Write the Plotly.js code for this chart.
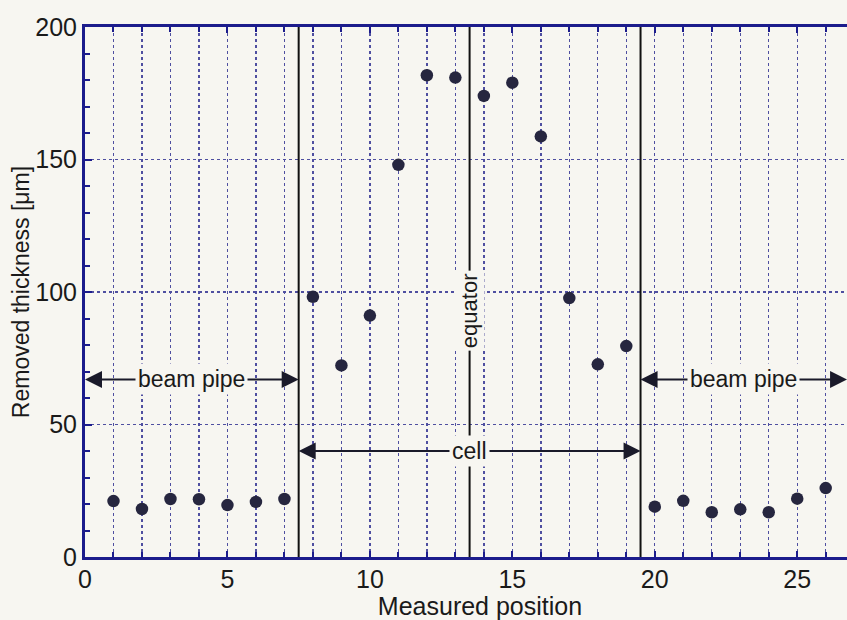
<!DOCTYPE html>
<html>
<head>
<meta charset="utf-8">
<script src="https://cdn.plot.ly/plotly-3.0.1.min.js"></script>
<style>
  html, body { margin: 0; padding: 0; overflow: hidden; background: #f7f6f1; }
  #chart { width: 875px; height: 620px; }
</style>
</head>
<body>
<div id="chart"></div>
<script>
// Data
const positions = [1,2,3,4,5,6,7,8,9,10,11,12,13,14,15,16,17,18,19,20,21,22,23,24,25,26];
const thickness = [21.1,18.1,21.9,21.8,19.6,20.8,21.9,98.2,72.3,91.1,148.0,181.8,180.9,174.0,179.0,158.7,97.7,72.7,79.6,19.0,21.2,16.9,18.0,16.9,22.0,26.0];
const boundaries = [7.5, 13.5, 19.5];
const regions = [
  {label: 'beam pipe', from: 0, to: 7.5, level: 67},
  {label: 'cell', from: 7.5, to: 19.5, level: 40},
  {label: 'beam pipe', from: 19.5, to: 26.75, level: 67}
];
const equatorLabel = {label: 'equator', x: 13.5, y: 93};
const xTicks = [0, 5, 10, 15, 20, 25];
const yTicks = [0, 50, 100, 150, 200];

const navy = '#1c1c8c';
const gridCol = '#4f4fa0';
const bg = '#f7f6f1';
const font = 'Liberation Sans, Arial, Helvetica, sans-serif';

const trace = {
  x: positions, y: thickness, type: 'scatter', mode: 'markers',
  marker: {size: 12.5, color: '#26263f'},
  hoverinfo: 'skip', showlegend: false
};

const shapes = boundaries.map(b => ({
  type: 'line', xref: 'x', yref: 'y', x0: b, x1: b, y0: 0, y1: 200,
  line: {color: '#111', width: 2}
}));

const annotations = [];
regions.forEach(r => {
  const mid = (r.from + r.to) / 2;
  [r.from, r.to].forEach(tip => {
    annotations.push({
      x: tip, y: r.level, ax: mid, ay: r.level, xref: 'x', yref: 'y', axref: 'x', ayref: 'y',
      text: '', showarrow: true, arrowhead: 2, arrowsize: 1.7, arrowwidth: 2, arrowcolor: '#1a1a2a',
      standoff: 0, startstandoff: 0
    });
  });
  annotations.push({
    x: mid, y: r.level, xref: 'x', yref: 'y', text: r.label, showarrow: false,
    font: {family: font, size: 23, color: '#1a1a1a'}, bgcolor: bg, borderpad: 2
  });
});
annotations.push({
  x: equatorLabel.x, y: equatorLabel.y, xref: 'x', yref: 'y', text: equatorLabel.label,
  showarrow: false, textangle: -90, font: {family: font, size: 22, color: '#1a1a1a'},
  bgcolor: bg, borderpad: 2
});

const layout = {
  width: 875, height: 620,
  margin: {l: 85, r: 0, t: 27, b: 63},
  paper_bgcolor: bg, plot_bgcolor: bg,
  font: {family: font, size: 25, color: '#1a1a1a'},
  showlegend: false,
  xaxis: {
    range: [0, 27.73], tickvals: xTicks, ticktext: xTicks.map(String),
    showline: true, linecolor: navy, linewidth: 3, mirror: 'ticks',
    ticks: 'inside', ticklen: 6, tickwidth: 2, tickcolor: navy,
    showgrid: true, gridcolor: gridCol, gridwidth: 1.4, griddash: 'dot',
    minor: {dtick: 1, tick0: 0, showgrid: true, gridcolor: gridCol, gridwidth: 1.4, griddash: 'dot',
            ticks: 'inside', ticklen: 5, tickwidth: 2, tickcolor: navy},
    zeroline: false, tickfont: {size: 25, family: font}, ticklabelstandoff: -2,
    title: {text: 'Measured position', font: {size: 25, family: font}, standoff: 4},
    fixedrange: true
  },
  yaxis: {
    range: [0, 200], tickvals: yTicks, ticktext: yTicks.map(String),
    showline: true, linecolor: navy, linewidth: 3, mirror: 'ticks',
    ticks: 'inside', ticklen: 7, tickwidth: 2, tickcolor: navy,
    showgrid: true, gridcolor: gridCol, gridwidth: 1.4, griddash: 'dot',
    minor: {dtick: 10, tick0: 0, showgrid: false, ticks: 'inside', ticklen: 5, tickwidth: 2, tickcolor: navy},
    zeroline: false, tickfont: {size: 25, family: font}, ticklabelstandoff: 0,
    title: {text: 'Removed thickness [μm]', font: {size: 23, family: font}, standoff: 0},
    fixedrange: true
  },
  shapes: shapes,
  annotations: annotations
};

Plotly.newPlot('chart', [trace], layout, {displayModeBar: false, staticPlot: true});
</script>
</body>
</html>
